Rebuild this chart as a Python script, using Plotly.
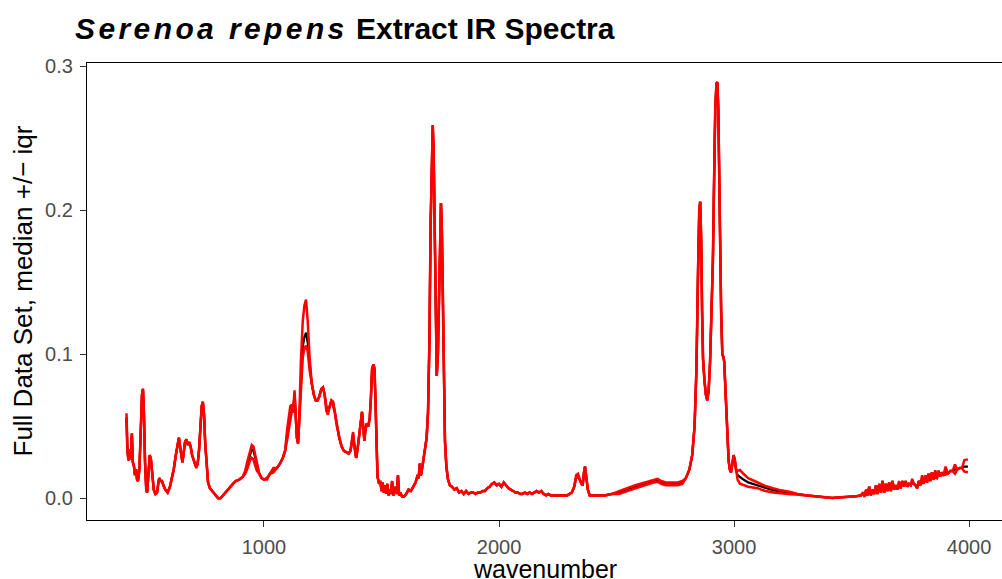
import plotly.graph_objects as go

# ---- Data (wavenumber, median absorbance) ----
wn_low = [415, 419, 424, 428, 433, 438, 442, 447, 451, 456, 460, 464, 470, 476, 481, 485, 489, 494, 499,
          503, 508, 514, 519, 525, 531, 538, 545, 550, 554, 560, 566, 572, 580, 590, 600, 608, 616, 625,
          632, 638, 643, 648, 653, 658, 664, 670, 676, 682, 688, 694, 700, 706, 712, 718, 724, 730, 735,
          740, 745, 750, 756, 762, 770, 778, 785, 795, 805, 815, 825, 840, 855, 868, 880, 895, 910, 920,
          930, 940, 948, 955, 962, 970, 980, 990, 1000, 1013, 1025, 1040, 1055, 1068, 1080, 1090, 1098,
          1105, 1112, 1118, 1124, 1130, 1134, 1140, 1145, 1150, 1157, 1165, 1172, 1179, 1186, 1194, 1203,
          1212, 1220, 1228, 1236, 1244, 1251, 1258, 1265, 1272, 1280, 1287, 1294, 1301, 1310, 1320, 1330,
          1340, 1350, 1360, 1368, 1374, 1379, 1385, 1392, 1398, 1405, 1412, 1417, 1422, 1427, 1432, 1438,
          1444, 1450, 1455, 1460, 1466, 1470, 1474, 1478, 1483, 1490]
med_low = [0.056, 0.033, 0.029, 0.034, 0.027, 0.045, 0.025, 0.022, 0.016, 0.020, 0.013, 0.012, 0.020,
           0.050, 0.072, 0.076, 0.060, 0.025, 0.006, 0.004, 0.018, 0.030, 0.027, 0.016, 0.006, 0.003,
           0.004, 0.010, 0.014, 0.012, 0.012, 0.009, 0.006, 0.004, 0.008, 0.014, 0.020, 0.030, 0.038,
           0.042, 0.036, 0.029, 0.025, 0.031, 0.039, 0.041, 0.037, 0.039, 0.036, 0.030, 0.026, 0.024,
           0.022, 0.024, 0.034, 0.052, 0.064, 0.067, 0.058, 0.038, 0.020, 0.011, 0.007, 0.005, 0.004,
           0.002, 0.000, 0.000, 0.002, 0.005, 0.008, 0.010, 0.012, 0.013, 0.015, 0.018, 0.024, 0.030,
           0.034, 0.033, 0.028, 0.022, 0.017, 0.014, 0.013, 0.014, 0.017, 0.020, 0.021, 0.024, 0.028,
           0.033, 0.044, 0.052, 0.058, 0.062, 0.060, 0.072, 0.060, 0.042, 0.038, 0.055, 0.085, 0.105,
           0.112, 0.115, 0.108, 0.092, 0.080, 0.072, 0.068, 0.068, 0.071, 0.076, 0.077, 0.072, 0.064,
           0.061, 0.064, 0.068, 0.067, 0.060, 0.050, 0.042, 0.036, 0.033, 0.032, 0.031, 0.033, 0.040,
           0.045, 0.036, 0.028, 0.034, 0.045, 0.055, 0.060, 0.050, 0.040, 0.048, 0.052, 0.050, 0.056,
           0.070, 0.090, 0.093, 0.090, 0.070, 0.035, 0.015, 0.010]

wn_mid = [1495, 1500, 1505, 1510, 1515, 1520, 1525, 1530, 1535, 1540, 1545, 1550, 1555, 1560, 1565, 1570,
          1575, 1580, 1588, 1595, 1605, 1615, 1625, 1635, 1645, 1652, 1658, 1663, 1668, 1674, 1680, 1686,
          1692, 1698, 1704, 1709, 1714, 1718, 1722, 1726, 1730, 1735, 1740, 1745, 1749, 1753, 1757, 1761,
          1765, 1770, 1776, 1783, 1791, 1800, 1810, 1820, 1830, 1840, 1850, 1860, 1870, 1880, 1890, 1900,
          1910, 1920, 1930, 1940, 1950, 1960, 1970, 1980, 1990, 2000, 2010, 2020, 2030, 2040, 2050, 2060,
          2070, 2080, 2090, 2100, 2110, 2120, 2130, 2140, 2150, 2160, 2170, 2180, 2190, 2200, 2210, 2220,
          2230, 2240, 2250, 2260, 2270, 2280, 2290, 2300, 2310, 2320, 2328, 2336, 2343, 2350, 2356, 2361,
          2366, 2371, 2378, 2386, 2395, 2420, 2450, 2480, 2510, 2545, 2580, 2620, 2660, 2675, 2690, 2710,
          2740, 2760, 2780]
med_mid = [0.012, 0.005, 0.011, 0.004, 0.009, 0.003, 0.010, 0.002, 0.006, 0.003, 0.012, 0.002, 0.005,
           0.008, 0.003, 0.016, 0.002, 0.004, 0.001, 0.001, 0.003, 0.006, 0.005, 0.008, 0.011, 0.015,
           0.014, 0.024, 0.016, 0.022, 0.028, 0.033, 0.042, 0.060, 0.110, 0.190, 0.245, 0.259, 0.240,
           0.180, 0.120, 0.085, 0.100, 0.150, 0.195, 0.205, 0.185, 0.130, 0.075, 0.040, 0.022, 0.013,
           0.009, 0.008, 0.006, 0.007, 0.004, 0.005, 0.003, 0.005, 0.003, 0.004, 0.004, 0.003, 0.004,
           0.004, 0.005, 0.005, 0.007, 0.008, 0.010, 0.011, 0.009, 0.010, 0.008, 0.011, 0.009, 0.007,
           0.006, 0.005, 0.004, 0.004, 0.003, 0.003, 0.004, 0.003, 0.004, 0.003, 0.004, 0.005, 0.004,
           0.005, 0.003, 0.002, 0.003, 0.002, 0.002, 0.002, 0.002, 0.002, 0.002, 0.002, 0.002, 0.003,
           0.004, 0.008, 0.014, 0.015, 0.013, 0.010, 0.009, 0.018, 0.022, 0.015, 0.006, 0.002, 0.002,
           0.002, 0.002, 0.003, 0.004, 0.006, 0.008, 0.010, 0.012, 0.0125, 0.011, 0.010, 0.010, 0.010,
           0.011]

wn_high = [2795, 2810, 2822, 2832, 2840, 2847, 2852, 2856, 2860, 2864, 2868, 2874, 2880, 2886, 2892, 2898,
           2904, 2910, 2915, 2920, 2925, 2929, 2933, 2937, 2941, 2945, 2950, 2955, 2958, 2962, 2967, 2972,
           2977, 2982, 2987, 2993, 2998, 3003, 3008, 3015, 3025, 3040, 3060, 3080, 3100, 3130, 3166, 3200,
           3240, 3280, 3320, 3360, 3400, 3420, 3440, 3470, 3500, 3520, 3540, 3550, 3556, 3562, 3568, 3575,
           3582, 3590, 3597, 3604, 3611, 3618, 3625, 3632, 3639, 3646, 3653, 3660, 3667, 3674, 3681, 3688,
           3695, 3702, 3709, 3716, 3723, 3730, 3737, 3744, 3751, 3758, 3765, 3772, 3779, 3786, 3793, 3800,
           3807, 3814, 3821, 3828, 3835, 3842, 3849, 3856, 3863, 3870, 3877, 3884, 3891, 3900, 3910, 3920,
           3930, 3940, 3950, 3960, 3970, 3980, 3995]
med_high = [0.014, 0.020, 0.030, 0.050, 0.090, 0.160, 0.200, 0.206, 0.180, 0.130, 0.097, 0.082, 0.072,
            0.068, 0.075, 0.095, 0.125, 0.165, 0.220, 0.270, 0.288, 0.289, 0.270, 0.220, 0.180, 0.130,
            0.100, 0.098, 0.095, 0.080, 0.060, 0.040, 0.026, 0.020, 0.018, 0.024, 0.030, 0.027, 0.020,
            0.016, 0.0146, 0.013, 0.011, 0.010, 0.009, 0.007, 0.0056, 0.0045, 0.0035, 0.0025, 0.0018,
            0.0012, 0.0005, 0.0002, 0.0005, 0.0008, 0.0010, 0.0014, 0.002, 0.004, 0.001, 0.006, 0.002,
            0.008, 0.002, 0.006, 0.003, 0.009, 0.003, 0.010, 0.004, 0.012, 0.004, 0.010, 0.005, 0.011,
            0.005, 0.012, 0.006, 0.009, 0.006, 0.011, 0.007, 0.012, 0.008, 0.012, 0.008, 0.010, 0.009,
            0.012, 0.010, 0.009, 0.007, 0.012, 0.009, 0.014, 0.010, 0.016, 0.011, 0.017, 0.012, 0.018,
            0.013, 0.017, 0.014, 0.019, 0.015, 0.018, 0.016, 0.019, 0.017, 0.019, 0.019, 0.020, 0.020,
            0.021, 0.021, 0.022, 0.022]

# ---- spread of the upper / lower (median +/- iqr) curves where they separate ----
spread_wn = [415, 419, 424, 712, 920, 930, 940, 948, 955, 962, 970, 1013, 1040, 1098, 1105, 1112, 1118,
             1130, 1157, 1165, 1172, 1179, 1186, 1194, 1265, 1272, 1294, 1379, 1412, 2328, 2336, 2510,
             2545, 2580, 2620, 2660, 2675, 2690, 2710, 2740, 2760, 2780, 3015, 3025, 3040, 3060, 3080,
             3100, 3130, 3166, 3200, 3240, 3702, 3758, 3800, 3856, 3900, 3940, 3980, 3995]
spread_up = [0.003, 0.001, 0.002, 0.000, 0.001, 0.002, 0.003, 0.003, 0.003, 0.002, 0.001, 0.000, 0.001,
             0.003, 0.004, 0.006, 0.003, 0.003, 0.010, 0.018, 0.022, 0.023, 0.015, 0.006, 0.000, 0.000,
             0.000, 0.001, 0.001, 0.002, 0.002, 0.001, 0.001, 0.001, 0.001, 0.001, 0.001, 0.001, 0.001,
             0.001, 0.001, 0.001, 0.003, 0.005, 0.004, 0.003, 0.0025, 0.002, 0.0018, 0.0014, 0.001,
             0.0008, 0.001, 0.0015, 0.002, 0.0025, 0.003, 0.0035, 0.0045, 0.005]
spread_dn = [0.000, 0.002, 0.003, 0.001, 0.001, 0.003, 0.004, 0.006, 0.006, 0.005, 0.003, 0.001, 0.002,
             0.004, 0.003, 0.004, 0.002, 0.000, 0.004, 0.007, 0.008, 0.009, 0.006, 0.003, 0.003, 0.003,
             0.003, 0.002, 0.002, 0.000, 0.000, 0.001, 0.001, 0.001, 0.001, 0.001, 0.001, 0.001, 0.001,
             0.001, 0.001, 0.001, 0.003, 0.0045, 0.004, 0.003, 0.0025, 0.002, 0.0018, 0.0016, 0.001,
             0.0008, 0.001, 0.0012, 0.0015, 0.002, 0.0025, 0.003, 0.0035, 0.004]

wavenumber = wn_low + wn_mid + wn_high
median = med_low + med_mid + med_high
up_map = dict(zip(spread_wn, spread_up))
dn_map = dict(zip(spread_wn, spread_dn))
upper = [m + up_map.get(w, 0.0) for w, m in zip(wavenumber, median)]
lower = [m - dn_map.get(w, 0.0) for w, m in zip(wavenumber, median)]

fig = go.Figure()
fig.add_trace(go.Scatter(x=wavenumber, y=median, mode="lines",
                         line=dict(color="black", width=2.2), showlegend=False))
fig.add_trace(go.Scatter(x=wavenumber, y=upper, mode="lines",
                         line=dict(color="#FF0000", width=2.5), showlegend=False))
fig.add_trace(go.Scatter(x=wavenumber, y=lower, mode="lines",
                         line=dict(color="#FF0000", width=2.5), showlegend=False))

font_family = "Liberation Sans, Arial, sans-serif"
fig.update_layout(
    width=1002, height=579,
    margin=dict(l=87, r=0, t=63, b=59),
    paper_bgcolor="white", plot_bgcolor="white",
    font=dict(family=font_family, color="black"),
    title=dict(text="<b><i><span style=\"letter-spacing:3.4px\">Serenoa repens</span></i> Extract IR Spectra</b>",
               x=75 / 1002, xref="container", xanchor="left",
               y=1 - 28 / 579, yref="container", yanchor="middle",
               font=dict(size=30, family=font_family, color="black")),
    xaxis=dict(range=[247, 4140], showgrid=False, zeroline=False, automargin=False,
               showline=True, linecolor="black", linewidth=1.3, mirror=True,
               ticks="outside", ticklen=6, tickcolor="#333333", tickwidth=1.3,
               ticklabelstandoff=3,
               tickvals=[1000, 2000, 3000, 4000], ticktext=["1000", "2000", "3000", "4000"],
               tickfont=dict(size=20, color="#4d4d4d")),
    yaxis=dict(range=[-0.0151, 0.3023], showgrid=False, zeroline=False, automargin=False,
               showline=True, linecolor="black", linewidth=1.3,
               ticks="outside", ticklen=6, tickcolor="#333333", tickwidth=1.3,
               ticklabelstandoff=3,
               tickvals=[0.0, 0.1, 0.2, 0.3], ticktext=["0.0", "0.1", "0.2", "0.3"],
               tickfont=dict(size=20, color="#4d4d4d")),
    annotations=[
        dict(text="wavenumber", xref="paper", yref="paper", x=0.5, y=0,
             xanchor="center", yanchor="bottom", yshift=-64, borderpad=0, showarrow=False,
             font=dict(size=25, color="black")),
        dict(text="Full Data Set, median +/− iqr", xref="paper", yref="paper", x=0, y=0.5,
             xanchor="center", yanchor="middle", xshift=-65, textangle=-90, showarrow=False,
             font=dict(size=26, color="black")),
    ],
)

fig.write_html("out.html", config={"displayModeBar": False},
               post_script="document.body.style.margin='0';document.body.style.overflow='hidden';")
